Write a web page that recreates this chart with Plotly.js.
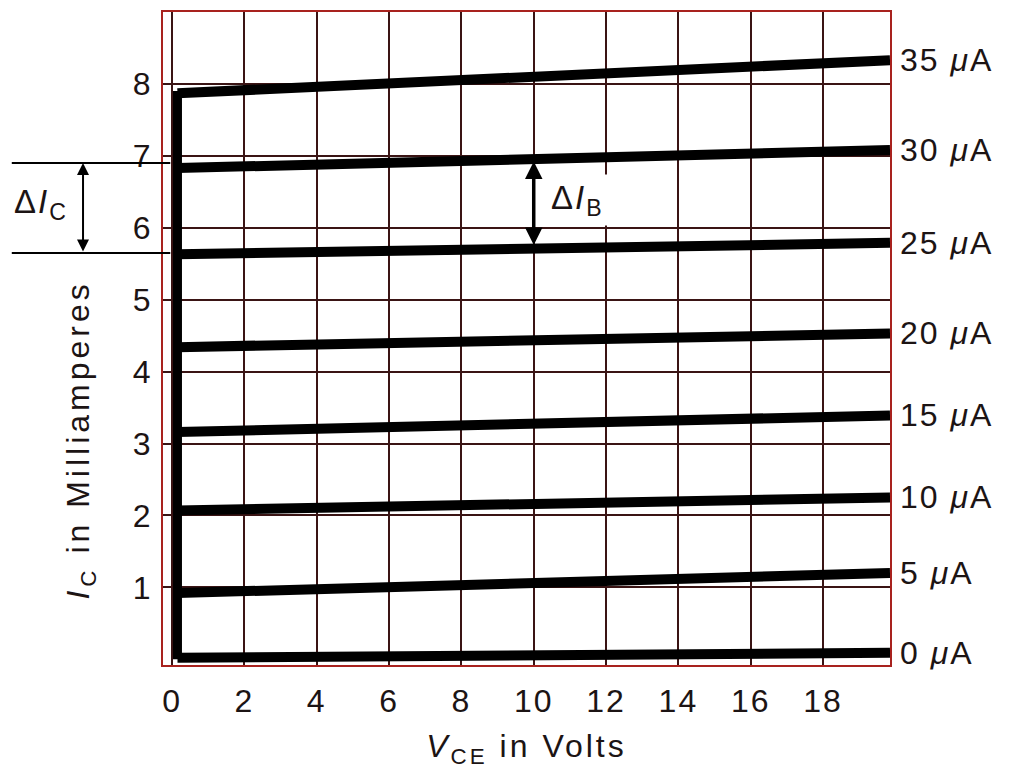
<!DOCTYPE html>
<html>
<head>
<meta charset="utf-8">
<script src="https://cdn.plot.ly/plotly-3.0.1.min.js"></script>
<style>
  html, body { margin: 0; padding: 0; background: #fff; }
  #chart { width: 1012px; height: 774px; }
  svg text { letter-spacing: 2px; }
  .xtitle { letter-spacing: 3px; }
  .annotation[data-index="8"] text { letter-spacing: 4px; }
</style>
</head>
<body>
<div id="chart"></div>
<script>
// ---- data ----
const baseCurrents = ['0', '5', '10', '15', '20', '25', '30', '35'];      // I_B in µA
const vceEnds = [0.15, 19.85];                                              // V_CE (V) at start / end of each curve
const icStart = [0.02, 0.92, 2.07, 3.16, 4.34, 5.63, 6.83, 7.87];           // I_C (mA) at left end
const icEnd   = [0.09, 1.20, 2.25, 3.39, 4.53, 5.79, 7.08, 8.33];           // I_C (mA) at right end
const satVce = [0.15, 0.15];                                                 // saturation rise
const satIc  = [0.0, 7.9];
const xTicks = [0, 2, 4, 6, 8, 10, 12, 14, 16, 18];
const yTicks = [1, 2, 3, 4, 5, 6, 7, 8];
const deltaIC = [5.65, 6.9];     // ΔI_C markers (mA)
const deltaIBx = 10;             // ΔI_B arrow position (V)
const deltaIB = [5.74, 6.92];    // ΔI_B arrow span (mA)

const FONT = 'Liberation Sans, Arial, sans-serif';
const TXT = '#1c1414';
const CURVE_W = 10;

const traces = baseCurrents.map((ib, i) => ({
  type: 'scatter', mode: 'lines',
  x: vceEnds, y: [icStart[i], icEnd[i]],
  name: ib + ' µA',
  line: { color: '#000', width: CURVE_W },
  hoverinfo: 'skip', showlegend: false
}));
traces.push({
  type: 'scatter', mode: 'lines', x: satVce, y: satIc,
  line: { color: '#000', width: 9 }, hoverinfo: 'skip', showlegend: false
});

const annotations = baseCurrents.map((ib, i) => ({
  x: vceEnds[1], y: icEnd[i], xref: 'x', yref: 'y',
  text: ib + ' <i>μ</i>A', showarrow: false,
  xanchor: 'left', yanchor: 'middle', xshift: 8,
  font: { family: FONT, size: 32, color: TXT }
}));

// y axis title (sits low in the reference)
annotations.push({
  xref: 'paper', yref: 'paper', x: -0.113, y: 0.345,
  text: '<i>I</i><sub>C</sub> in Milliamperes', showarrow: false, textangle: -90,
  xanchor: 'center', yanchor: 'middle',
  font: { family: FONT, size: 32, color: TXT }
});

// ΔI_C double arrow (outside plot on the left)
annotations.push({
  xref: 'paper', yref: 'y', x: -0.11, y: deltaIC[1],
  axref: 'paper', ayref: 'y', ax: -0.11, ay: deltaIC[0],
  showarrow: true, arrowhead: 2, arrowside: 'end+start', arrowsize: 1.2,
  arrowwidth: 2, arrowcolor: '#000', text: ''
});
annotations.push({
  xref: 'paper', yref: 'y', x: -0.168, y: (deltaIC[0] + deltaIC[1]) / 2 + 0.05,
  text: 'Δ<i>I</i><sub>C</sub>', showarrow: false,
  xanchor: 'center', yanchor: 'middle',
  font: { family: FONT, size: 33, color: TXT }
});
// ΔI_B double arrow inside the plot
annotations.push({
  xref: 'x', yref: 'y', x: deltaIBx, y: deltaIB[1],
  axref: 'x', ayref: 'y', ax: deltaIBx, ay: deltaIB[0],
  showarrow: true, arrowhead: 2, arrowside: 'end+start', arrowsize: 1,
  arrowwidth: 3.5, arrowcolor: '#000', text: ''
});
annotations.push({
  xref: 'x', yref: 'y', x: deltaIBx + 0.35, y: (deltaIB[0] + deltaIB[1]) / 2 + 0.05,
  text: 'Δ<i>I</i><sub>B</sub>', showarrow: false,
  xanchor: 'left', yanchor: 'middle', bgcolor: '#fff', borderpad: 4,
  font: { family: FONT, size: 33, color: TXT }
});

const shapes = deltaIC.map(v => ({
  type: 'line', xref: 'paper', yref: 'y',
  x0: -0.208, x1: 0.01, y0: v, y1: v,
  line: { color: '#000', width: 2 }
}));

const GRID = '#3a1414';
const FRAME = '#a8221e';

const layout = {
  width: 1012, height: 774,
  margin: { l: 163, r: 122, t: 12, b: 109 },
  paper_bgcolor: '#fff', plot_bgcolor: '#fff',
  showlegend: false,
  xaxis: {
    range: [-0.25, 19.85], tickvals: xTicks, ticktext: xTicks.map(String),
    showgrid: true, gridcolor: GRID, gridwidth: 2, zeroline: false,
    showline: true, mirror: true, linecolor: FRAME, linewidth: 2,
    ticks: 'outside', ticklen: 7, tickcolor: 'rgba(0,0,0,0)',
    tickfont: { family: FONT, size: 32, color: TXT },
    title: { text: '<i>V</i><sub>CE</sub> in Volts', standoff: 16,
             font: { family: FONT, size: 32, color: TXT } },
    fixedrange: true
  },
  yaxis: {
    range: [-0.08, 9.0], tickvals: yTicks, ticktext: yTicks.map(String),
    showgrid: true, gridcolor: GRID, gridwidth: 2, zeroline: false,
    showline: true, mirror: true, linecolor: FRAME, linewidth: 2,
    ticks: 'outside', ticklen: 2, tickcolor: 'rgba(0,0,0,0)',
    tickfont: { family: FONT, size: 32, color: TXT },
    fixedrange: true
  },
  annotations: annotations,
  shapes: shapes
};

Plotly.newPlot('chart', traces, layout, { staticPlot: true, displayModeBar: false });
</script>
</body>
</html>
